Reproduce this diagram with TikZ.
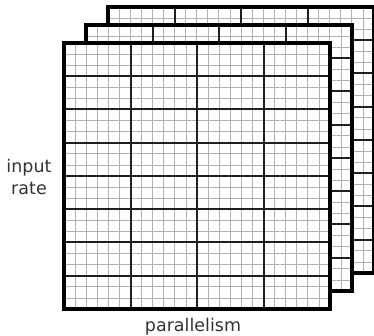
\documentclass[tikz,border=0pt]{standalone}
\usepackage{fontspec}
\setmainfont{DejaVu Sans}
\begin{document}
\begin{tikzpicture}[x=1pt,y=-1pt,
  panel/.style={rectangle, fill=white, minimum width=266pt, minimum height=266pt,
    inner sep=0pt, outer sep=0pt, anchor=north west},
  fineline/.style={draw=black!30, line width=0.7pt},
  coarseline/.style={draw=black!88, line width=2pt},
  rim/.style={draw=black, line width=3.2pt},
  caption/.style={font=\fontsize{17.5}{22}\selectfont, text=black!80, align=center, inner sep=0pt}]
\useasboundingbox (0,0) rectangle (374,336);

% three stacked grids, back to front
\foreach \nm/\px/\py in {back/108/7, mid/86/25, front/64/43} {
  \node[panel] (\nm) at (\px,\py) {};
  \begin{scope}[shift={(\nm.north west)}]
    \foreach \i in {1,...,23} {
      \draw[fineline] (\i*266/24,0) -- ++(0,266);
      \draw[fineline] (0,\i*266/24) -- ++(266,0);
    }
    \foreach \i in {1,2,3}
      \draw[coarseline] (\i*66.5,0) -- ++(0,266);
    \foreach \i in {1,...,7}
      \draw[coarseline] (0,\i*33.25) -- ++(266,0);
  \end{scope}
  \draw[rim] (\nm.north west) rectangle (\nm.south east);
}

% axis captions
\node[caption] (rate) at (29,177) {input\\rate};
\node[caption, anchor=base] (par) at (193,331) {parallelism};
\end{tikzpicture}
\end{document}
